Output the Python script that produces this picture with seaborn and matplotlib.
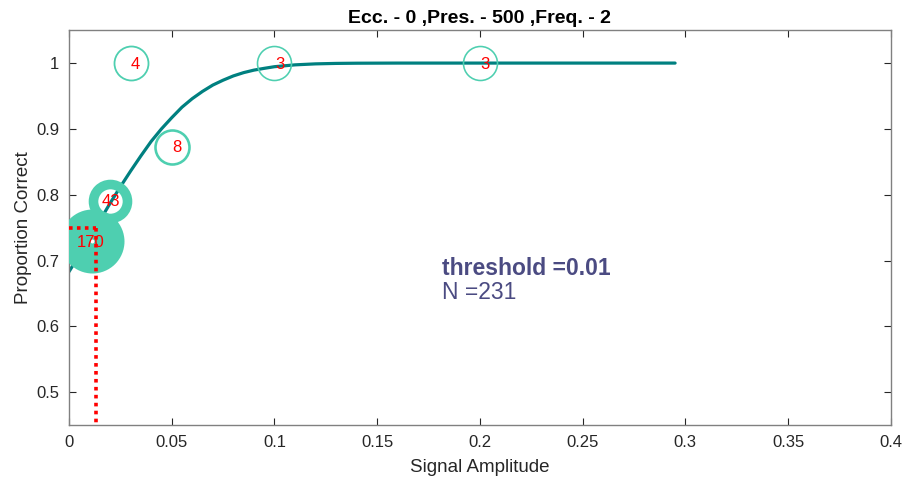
import matplotlib
matplotlib.use("Agg")
import matplotlib.pyplot as plt
import seaborn as sns
import pandas as pd

# ---- data ----
stim_levels = [0.011, 0.02, 0.03, 0.05, 0.1, 0.2]
prop_correct = [0.729, 0.791, 1.0, 0.873, 1.0, 1.0]
n_trials = [170, 43, 4, 8, 3, 3]

curve_x = [0.0, 0.005, 0.01, 0.015, 0.02, 0.025, 0.03, 0.035, 0.04, 0.045,
           0.05, 0.055, 0.06, 0.065, 0.07, 0.075, 0.08, 0.085, 0.09, 0.095,
           0.10, 0.11, 0.12, 0.13, 0.14, 0.15, 0.16, 0.20, 0.25, 0.295]
curve_y = [0.683, 0.708, 0.734, 0.7605, 0.787, 0.812, 0.836, 0.859, 0.881, 0.900,
           0.917, 0.933, 0.946, 0.957, 0.9666, 0.974, 0.9805, 0.9855, 0.9893, 0.992,
           0.9945, 0.9973, 0.9988, 0.9995, 0.9998, 0.9999, 1.0, 1.0, 1.0, 1.0]

threshold_x = 0.0131
threshold_y = 0.75
threshold_label = "threshold =0.01"
n_label = "N =231"
title = "Ecc. - 0 ,Pres. - 500 ,Freq. - 2"

x_ticks = [0, 0.05, 0.1, 0.15, 0.2, 0.25, 0.3, 0.35, 0.4]
x_tick_labels = ["0", "0.05", "0.1", "0.15", "0.2", "0.25", "0.3", "0.35", "0.4"]
y_ticks = [0.5, 0.6, 0.7, 0.8, 0.9, 1.0]
y_tick_labels = ["0.5", "0.6", "0.7", "0.8", "0.9", "1"]

# ---- style ----
sns.set_style("white")
plt.rcParams["font.family"] = ["Liberation Sans", "DejaVu Sans"]

fig = plt.figure(figsize=(9.09, 4.79), dpi=100)
ax = fig.add_axes([0.0759, 0.1127, 0.9041, 0.8243])

curve_df = pd.DataFrame({"x": curve_x, "y": curve_y})
sns.lineplot(data=curve_df, x="x", y="y", ax=ax, color="#008080",
             linewidth=2.3, zorder=2, sort=True)

px = 0.72  # points per pixel at 100 dpi
marker_color = "#4ECFB0"
label_shift_px = {1: 5, 2: 1, 3: -1}
for xv, yv, n in zip(stim_levels, prop_correct, n_trials):
    lw_px = min(1.0 + 0.2 * n, 30.0)
    ax.plot([xv], [yv], marker="o", markersize=34 * px, markerfacecolor="none",
            markeredgecolor=marker_color, markeredgewidth=lw_px * px,
            linestyle="none", zorder=3)
    ax.annotate(str(n), (xv, yv), xytext=(label_shift_px[len(str(n))] * px, -1 * px),
                textcoords="offset points", color="red", fontsize=12,
                ha="center", va="center", zorder=5)

# threshold lines
ax.plot([0, threshold_x], [threshold_y, threshold_y], color="red",
        linestyle=(0, (1, 1.2)), linewidth=2.6, zorder=4)
ax.plot([threshold_x, threshold_x], [threshold_y, 0.45], color="red",
        linestyle=(0, (1, 1.2)), linewidth=2.6, zorder=4)

ax.text(0.1815, 0.6885, threshold_label, color="#4B4B82", fontsize=16.5,
        fontweight="bold", ha="left", va="center")
ax.text(0.1815, 0.652, n_label, color="#4B4B82", fontsize=16.5,
        ha="left", va="center")

ax.set_xlim(0, 0.4)
ax.set_ylim(0.45, 1.05)
ax.set_xticks(x_ticks)
ax.set_xticklabels(x_tick_labels)
ax.set_yticks(y_ticks)
ax.set_yticklabels(y_tick_labels)
ax.tick_params(direction="in", length=5, width=0.8, color="#262626",
               labelsize=12, labelcolor="#262626", top=True, right=True,
               bottom=True, left=True, pad=7)
for s in ax.spines.values():
    s.set_color("#808080")
    s.set_linewidth(1.0)

ax.set_xlabel("Signal Amplitude", fontsize=13.5, color="#262626", labelpad=7)
ax.set_ylabel("Proportion Correct", fontsize=13.5, color="#262626", labelpad=3)
ax.set_title(title, fontsize=14, fontweight="bold", color="black", pad=5)

fig.savefig("out.png", dpi=100)
